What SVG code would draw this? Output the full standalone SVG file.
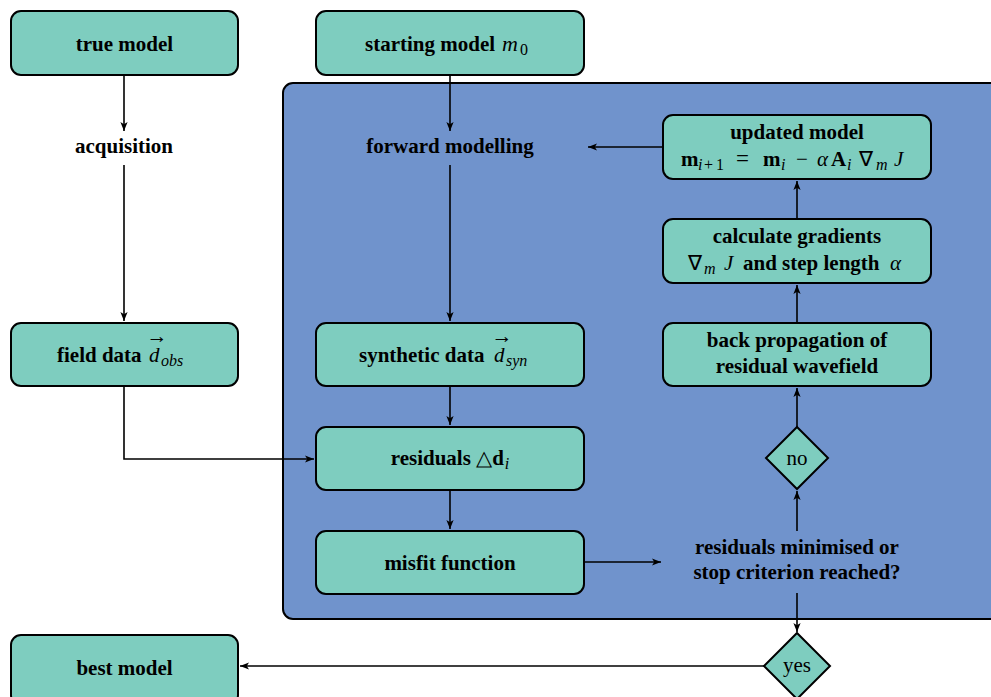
<svg xmlns="http://www.w3.org/2000/svg" width="991" height="697" viewBox="0 0 991 697">
<defs>
<marker id="arr" viewBox="0 0 10 10" refX="10" refY="5" markerWidth="9" markerHeight="9" markerUnits="userSpaceOnUse" orient="auto">
<path d="M0,1 L10,5 L0,9 L2.5,5 Z" fill="#000"/>
</marker>
<style>
.box{fill:#7ecdbf;stroke:#000;stroke-width:2}
.t{font-family:"Liberation Serif",serif;font-size:21px;text-anchor:middle;fill:#000}
.l{text-anchor:start}
.m{font-style:italic}
.s{font-size:16px;font-style:italic}
.u{font-size:16px}
.c{fill:none;stroke:#000;stroke-width:1.6;marker-end:url(#arr)}
</style>
</defs>
<rect x="283" y="83" width="730" height="536" rx="10" fill="#7093cc" stroke="#000" stroke-width="2"/>
<g id="connectors">
<path class="c" d="M124,75 V131"/>
<path class="c" d="M124,165 V321"/>
<path class="c" d="M450,75 V131"/>
<path class="c" d="M450,165 V321"/>
<path class="c" d="M124,387 V459 H314"/>
<path class="c" d="M450,387 V425"/>
<path class="c" d="M450,491 V529"/>
<path class="c" d="M585,562 H661"/>
<path class="c" d="M797,531 V491"/>
<path class="c" d="M797,427 V388"/>
<path class="c" d="M797,323 V285"/>
<path class="c" d="M797,219 V181"/>
<path class="c" d="M663,147 H588"/>
<path class="c" d="M797,593 V632"/>
<path class="c" d="M764,666 H240"/>
</g>
<g id="true-model"><rect class="box" x="11" y="11" width="227" height="64" rx="10"/><text class="t" font-weight="bold" x="124.5" y="51">true model</text></g>
<g id="starting-model"><rect class="box" x="316" y="11" width="268" height="64" rx="10"/><text class="t l" font-weight="bold" x="365" y="51">starting model<tspan class="m" font-weight="normal" font-size="22" x="502">m</tspan><tspan class="u" font-weight="normal" x="520" y="55">0</tspan></text></g>
<g id="acquisition"><text class="t" font-weight="bold" x="124" y="153">acquisition</text></g>
<g id="forward-modelling"><text class="t" font-weight="bold" x="450" y="153">forward modelling</text></g>
<g id="updated-model"><rect class="box" x="663" y="115" width="268" height="64" rx="10"/><text class="t" font-weight="bold" x="797" y="139">updated model</text><text class="t l" font-weight="bold" x="681" y="166">m<tspan class="s" font-weight="normal" x="698" y="170">i</tspan><tspan class="u" font-weight="normal" x="704" y="170">+</tspan><tspan class="u" font-weight="normal" x="716" y="170">1</tspan><tspan font-weight="normal" font-size="23" x="736" y="166">=</tspan><tspan x="763">m</tspan><tspan class="s" font-weight="normal" x="781" y="170">i</tspan><tspan font-weight="normal" x="796" y="166">−</tspan><tspan class="m" font-weight="normal" x="817">α</tspan><tspan x="831">A</tspan><tspan class="s" font-weight="normal" x="847" y="170">i</tspan><tspan font-weight="normal" x="859" y="166">∇</tspan><tspan class="s" font-weight="normal" x="876" y="170">m</tspan><tspan class="m" font-weight="normal" x="894" y="166">J</tspan></text></g>
<g id="calculate-gradients"><rect class="box" x="663" y="219" width="268" height="64" rx="10"/><text class="t" font-weight="bold" x="797" y="243">calculate gradients</text><text class="t l" font-weight="bold" x="688" y="270"><tspan font-weight="normal">∇</tspan><tspan class="s" font-weight="normal" x="704" y="274">m</tspan><tspan class="m" font-weight="normal" x="724" y="270">J</tspan><tspan x="743">and step length</tspan><tspan class="m" font-weight="normal" x="890">α</tspan></text></g>
<g id="back-propagation"><rect class="box" x="663" y="323" width="268" height="63" rx="10"/><text class="t" font-weight="bold" x="797" y="347">back propagation of</text><text class="t" font-weight="bold" x="797" y="373">residual wavefield</text></g>
<g id="field-data"><rect class="box" x="11" y="323" width="227" height="63" rx="10"/><text class="t l" font-weight="bold" x="57" y="362">field data<tspan class="m" font-weight="normal" x="149">d</tspan><tspan class="s" font-weight="normal" x="161" y="366">obs</tspan></text><text class="t" x="157" y="343" font-size="11">→</text></g>
<g id="synthetic-data"><rect class="box" x="316" y="323" width="268" height="63" rx="10"/><text class="t l" font-weight="bold" x="359" y="362">synthetic data<tspan class="m" font-weight="normal" x="494">d</tspan><tspan class="s" font-weight="normal" x="506" y="366">syn</tspan></text><text class="t" x="502" y="343" font-size="11">→</text></g>
<g id="residuals"><rect class="box" x="316" y="427" width="268" height="63" rx="10"/><text class="t" font-weight="bold" x="450" y="465">residuals <tspan font-weight="normal">△</tspan>d<tspan class="s" font-weight="normal" dx="1" dy="4">i</tspan></text></g>
<g id="misfit-function"><rect class="box" x="316" y="531" width="268" height="63" rx="10"/><text class="t" font-weight="bold" x="450" y="570">misfit function</text></g>
<g id="criterion"><text class="t" font-weight="bold" x="797" y="554">residuals minimised or</text><text class="t" font-weight="bold" x="797" y="579">stop criterion reached?</text></g>
<g id="no"><path class="box" d="M797,427 L828,458 L797,489 L766,458 Z"/><text class="t" x="797" y="465">no</text></g>
<g id="yes"><path class="box" d="M797,633 L830,666 L797,699 L764,666 Z"/><text class="t" x="797" y="672">yes</text></g>
<g id="best-model"><rect class="box" x="11" y="635" width="227" height="70" rx="10"/><text class="t" font-weight="bold" x="124.5" y="675">best model</text></g>
</svg>
